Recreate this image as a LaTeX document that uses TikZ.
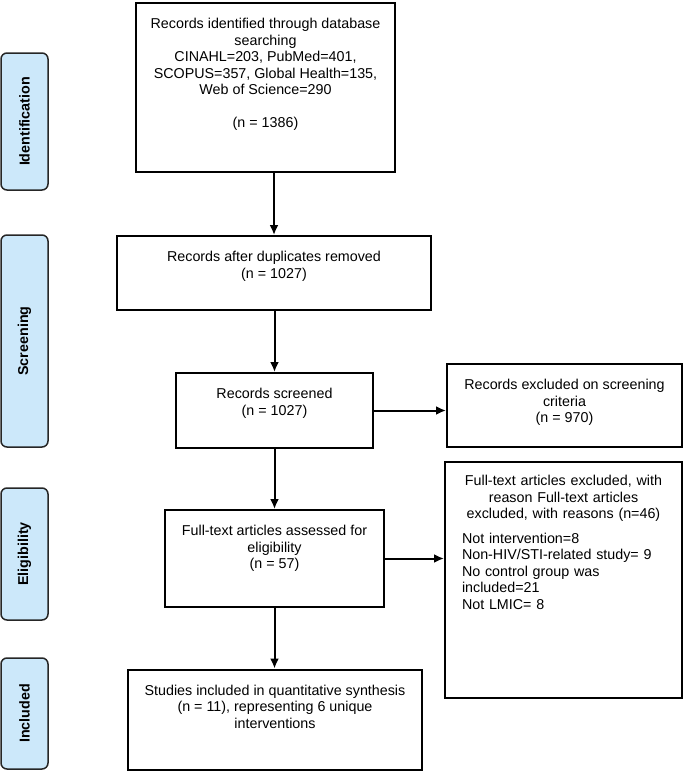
\documentclass[tikz,border=0pt]{standalone}
\usepackage{fontspec}
\setmainfont{Liberation Sans}
\usepackage{tikz}
\usetikzlibrary{arrows.meta, positioning}
\definecolor{azzurro}{RGB}{204,232,250}

\begin{document}
\begin{tikzpicture}[x = 1pt, y = -1pt,
    riquadro/.style = {draw, line width = 2pt, inner sep = 0pt},
    fase/.style = {draw = black!85, line width = 1.5pt, fill = azzurro, rounded corners = 6pt, rotate = 90, minimum height = 47pt, inner sep = 0pt, font = \fontsize{14.3}{16.5}\selectfont\bfseries},
    testo/.style = {align = center, inner sep = 0pt, font = \fontsize{14.3}{16.5}\selectfont},
    freccia/.style = {-{Latex[length = 10pt, width = 9pt]}, line width = 2pt}]
    % Parametri
    \pgfmathsetmacro{\margine}{16}
    \pgfmathsetmacro{\colonna}{24.5}
    \useasboundingbox (0,0) rectangle (685,771);
    % Fasi
    \node[fase, minimum width = 137pt] (identificazione) at (\colonna,121.5) {Identification};
    \node[fase, minimum width = 212pt] (screening) at (\colonna,341) {Screening};
    \node[fase, minimum width = 132pt] (idoneita) at (\colonna,554) {Eligibility};
    \node[fase, minimum width = 111pt] (inclusione) at (\colonna,713.5) {Included};
    % Riquadri
    \node[riquadro, minimum width = 259pt, minimum height = 169pt] (identificati) at (265.5,87.5) {};
    \node[riquadro, minimum width = 314pt, minimum height = 74pt] (duplicati) at (274,273) {};
    \node[riquadro, minimum width = 197pt, minimum height = 75pt] (selezionati) at (274.5,410.5) {};
    \node[riquadro, minimum width = 219pt, minimum height = 97pt] (idonei) at (274.5,558.5) {};
    \node[riquadro, minimum width = 294pt, minimum height = 100pt] (inclusi) at (275,719.5) {};
    \node[riquadro, minimum width = 235pt, minimum height = 83pt] (esclusiSel) at (564.5,405.5) {};
    \node[riquadro, minimum width = 237pt, minimum height = 236pt] (esclusiTesto) at (563.5,580) {};
    % Testi
    \node[testo, below = \margine pt of identificati.north] (tIdentificati) {Records identified through database\\ searching\\ CINAHL=203, PubMed=401,\\ SCOPUS=357, Global Health=135,\\ Web of Science=290\\[16.5pt] (n = 1386)};
    \node[testo, below = \margine pt of duplicati.north] (tDuplicati) {Records after duplicates removed\\ (n = 1027)};
    \node[testo, below = \margine pt of selezionati.north] (tSelezionati) {Records screened\\ (n = 1027)};
    \node[testo, below = \margine pt of idonei.north] (tIdonei) {Full-text articles assessed for\\ eligibility\\ (n = 57)};
    \node[testo, below = \margine pt of inclusi.north] (tInclusi) {Studies included in quantitative synthesis\\ (n = 11), representing 6 unique\\ interventions};
    \node[testo, below = \margine pt of esclusiSel.north] (tEsclusiSel) {Records excluded on screening\\ criteria\\ (n = 970)};
    \node[testo, align = left, text width = 203pt, below = 14pt of esclusiTesto.north] (tEsclusiTesto) {{\centering Full-text articles excluded, with\\ reason Full-text articles\\ excluded, with reasons (n=46)\par}\vspace{8.3pt}
        Not intervention=8\\ Non-HIV/STI-related study= 9\\ No control group was\\ included=21\\ Not LMIC= 8};
    % Frecce
    \draw[freccia] (duplicati.north |- identificati.south) -- (duplicati.north);
    \draw[freccia] (selezionati.north |- duplicati.south) -- (selezionati.north);
    \draw[freccia] (selezionati.south) -- (idonei.north);
    \draw[freccia] (idonei.south) -- (idonei.south |- inclusi.north);
    \draw[freccia] (selezionati.east) -- (selezionati.east -| esclusiSel.west);
    \draw[freccia] (idonei.east) -- (idonei.east -| esclusiTesto.west);
\end{tikzpicture}
\end{document}
